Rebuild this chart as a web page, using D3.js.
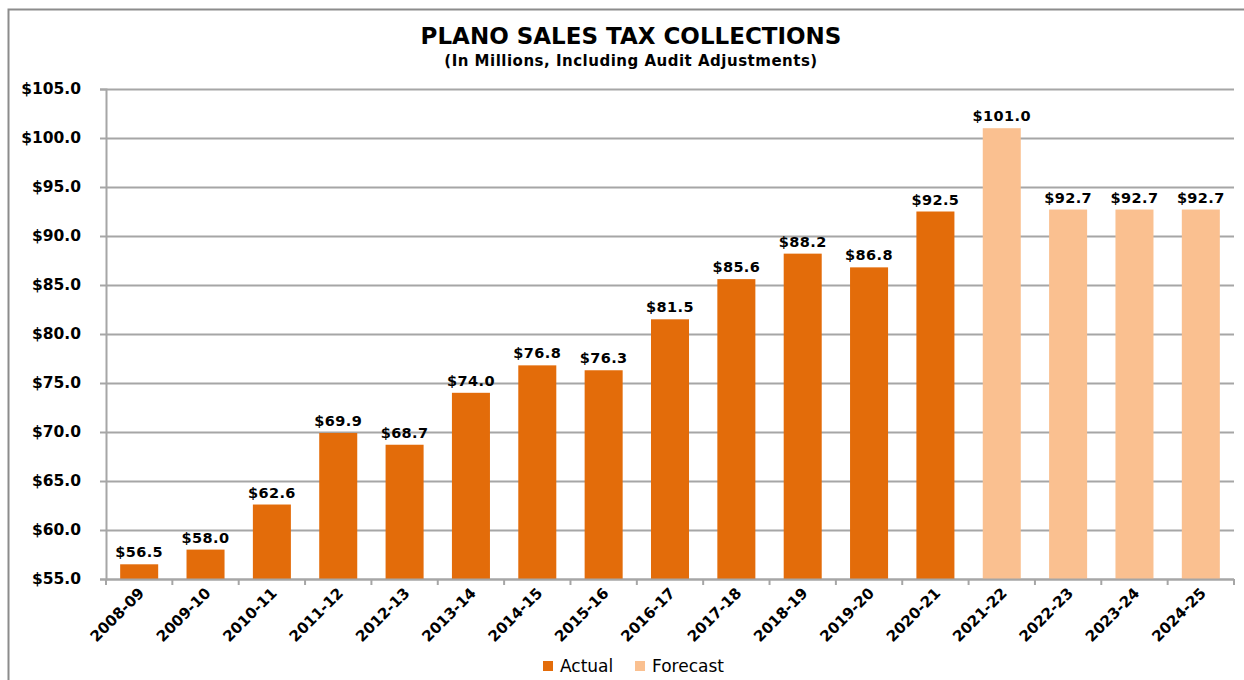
<!DOCTYPE html>
<html>
<head>
<meta charset="utf-8">
<script src="https://cdn.jsdelivr.net/npm/d3@7"></script>
<style>
  html, body { margin: 0; padding: 0; background: #fff; }
  svg { display: block; }
  text { fill: #000; }
</style>
</head>
<body>
<svg id="chart" width="1244" height="680"></svg>
<script>
// Fiscal years and collections (millions of dollars)
const years = ["2008-09","2009-10","2010-11","2011-12","2012-13","2013-14","2014-15","2015-16",
               "2016-17","2017-18","2018-19","2019-20","2020-21","2021-22","2022-23","2023-24","2024-25"];
const collections = [56.5, 58.0, 62.6, 69.9, 68.7, 74.0, 76.8, 76.3, 81.5, 85.6, 88.2, 86.8, 92.5,
                     101.0, 92.7, 92.7, 92.7];
const kinds = ["Actual","Actual","Actual","Actual","Actual","Actual","Actual","Actual","Actual",
               "Actual","Actual","Actual","Actual","Forecast","Forecast","Forecast","Forecast"];
const seriesNames = ["Actual", "Forecast"];
const yTicks = [55, 60, 65, 70, 75, 80, 85, 90, 95, 100, 105];

const colors = { Actual: "#E36C0A", Forecast: "#FAC090" };
const rows = years.map((y, i) => ({ year: y, value: collections[i], kind: kinds[i] }));

const svg = d3.select("#chart");
const margin = { left: 106, right: 10, top: 89, bottom: 101 };
const W = 1244, H = 680;

// outer chart frame
svg.append("rect")
  .attr("x", 8.5).attr("y", 9.5)
  .attr("width", W + 20).attr("height", H + 20)
  .attr("fill", "none").attr("stroke", "#8c8c8c").attr("stroke-width", 2);

const x = d3.scaleBand().domain(years).range([margin.left, W - margin.right]).padding(0);
const y = d3.scaleLinear().domain([55, 105]).range([H - margin.bottom, margin.top]);
const barW = x.bandwidth() * 0.573;

// gridlines
svg.append("g").selectAll("line").data(yTicks).join("line")
  .attr("x1", margin.left).attr("x2", W - margin.right)
  .attr("y1", d => y(d) + 0.5).attr("y2", d => y(d) + 0.5)
  .attr("stroke", "#a6a6a6").attr("stroke-width", 2);

// y axis
const yAxis = svg.append("g")
  .attr("transform", `translate(${margin.left},0)`)
  .call(d3.axisLeft(y).tickValues(yTicks).tickSize(6).tickPadding(19)
        .tickFormat(d => "$" + d3.format(".1f")(d)));
yAxis.select(".domain").attr("stroke", "#a6a6a6").attr("stroke-width", 2);
yAxis.selectAll(".tick line").attr("stroke", "#a6a6a6").attr("stroke-width", 2);
yAxis.selectAll(".tick text")
  .attr("font-family", "DejaVu Sans").attr("font-weight", "bold").attr("font-size", 15.5)
  .attr("fill", "#000");

// bars
svg.append("g").selectAll("rect").data(rows).join("rect")
  .attr("x", d => x(d.year) + (x.bandwidth() - barW) / 2)
  .attr("width", barW)
  .attr("y", d => y(d.value))
  .attr("height", d => y(55) - y(d.value))
  .attr("fill", d => colors[d.kind]);

// x axis with ticks on category boundaries
const xAxisG = svg.append("g").attr("transform", `translate(0,${y(55)})`);
xAxisG.append("line")
  .attr("x1", margin.left).attr("x2", W - margin.right)
  .attr("y1", 0.5).attr("y2", 0.5)
  .attr("stroke", "#a6a6a6").attr("stroke-width", 2);
const bounds = years.map(d => x(d)).concat([x(years[years.length - 1]) + x.bandwidth()]);
xAxisG.selectAll("line.tk").data(bounds).join("line").attr("class", "tk")
  .attr("x1", d => d).attr("x2", d => d).attr("y1", 0).attr("y2", 6)
  .attr("stroke", "#a6a6a6").attr("stroke-width", 2);
xAxisG.selectAll("text").data(years).join("text")
  .attr("transform", d => `translate(${x(d) + x.bandwidth() / 2 + 6},${15}) rotate(-45)`)
  .attr("text-anchor", "end")
  .attr("font-family", "DejaVu Sans").attr("font-weight", "bold").attr("font-size", 15)
  .text(d => d);

// value labels
svg.append("g").selectAll("text").data(rows).join("text")
  .attr("x", d => x(d.year) + x.bandwidth() / 2)
  .attr("y", d => y(d.value) - 7)
  .attr("text-anchor", "middle")
  .attr("font-family", "DejaVu Sans").attr("font-weight", "bold").attr("font-size", 14.5)
  .attr("letter-spacing", 0.4)
  .text(d => "$" + d3.format(".1f")(d.value));

// titles
svg.append("text")
  .attr("x", 631).attr("y", 44).attr("text-anchor", "middle")
  .attr("font-family", "DejaVu Sans").attr("font-weight", "bold").attr("font-size", 23)
  .text("PLANO SALES TAX COLLECTIONS");
svg.append("text")
  .attr("x", 631).attr("y", 66).attr("text-anchor", "middle")
  .attr("font-family", "DejaVu Sans").attr("font-weight", "bold").attr("font-size", 15)
  .attr("letter-spacing", 0.5)
  .text("(In Millions, Including Audit Adjustments)");

// legend
const legend = svg.append("g").attr("transform", "translate(543,661)");
const legendX = [0, 92];
seriesNames.forEach((name, i) => {
  const g = legend.append("g").attr("transform", `translate(${legendX[i]},0)`);
  g.append("rect").attr("width", 10).attr("height", 10).attr("fill", colors[name]);
  g.append("text").attr("x", 17).attr("y", 11)
    .attr("font-family", "DejaVu Sans").attr("font-size", 17)
    .text(name);
});
</script>
</body>
</html>
